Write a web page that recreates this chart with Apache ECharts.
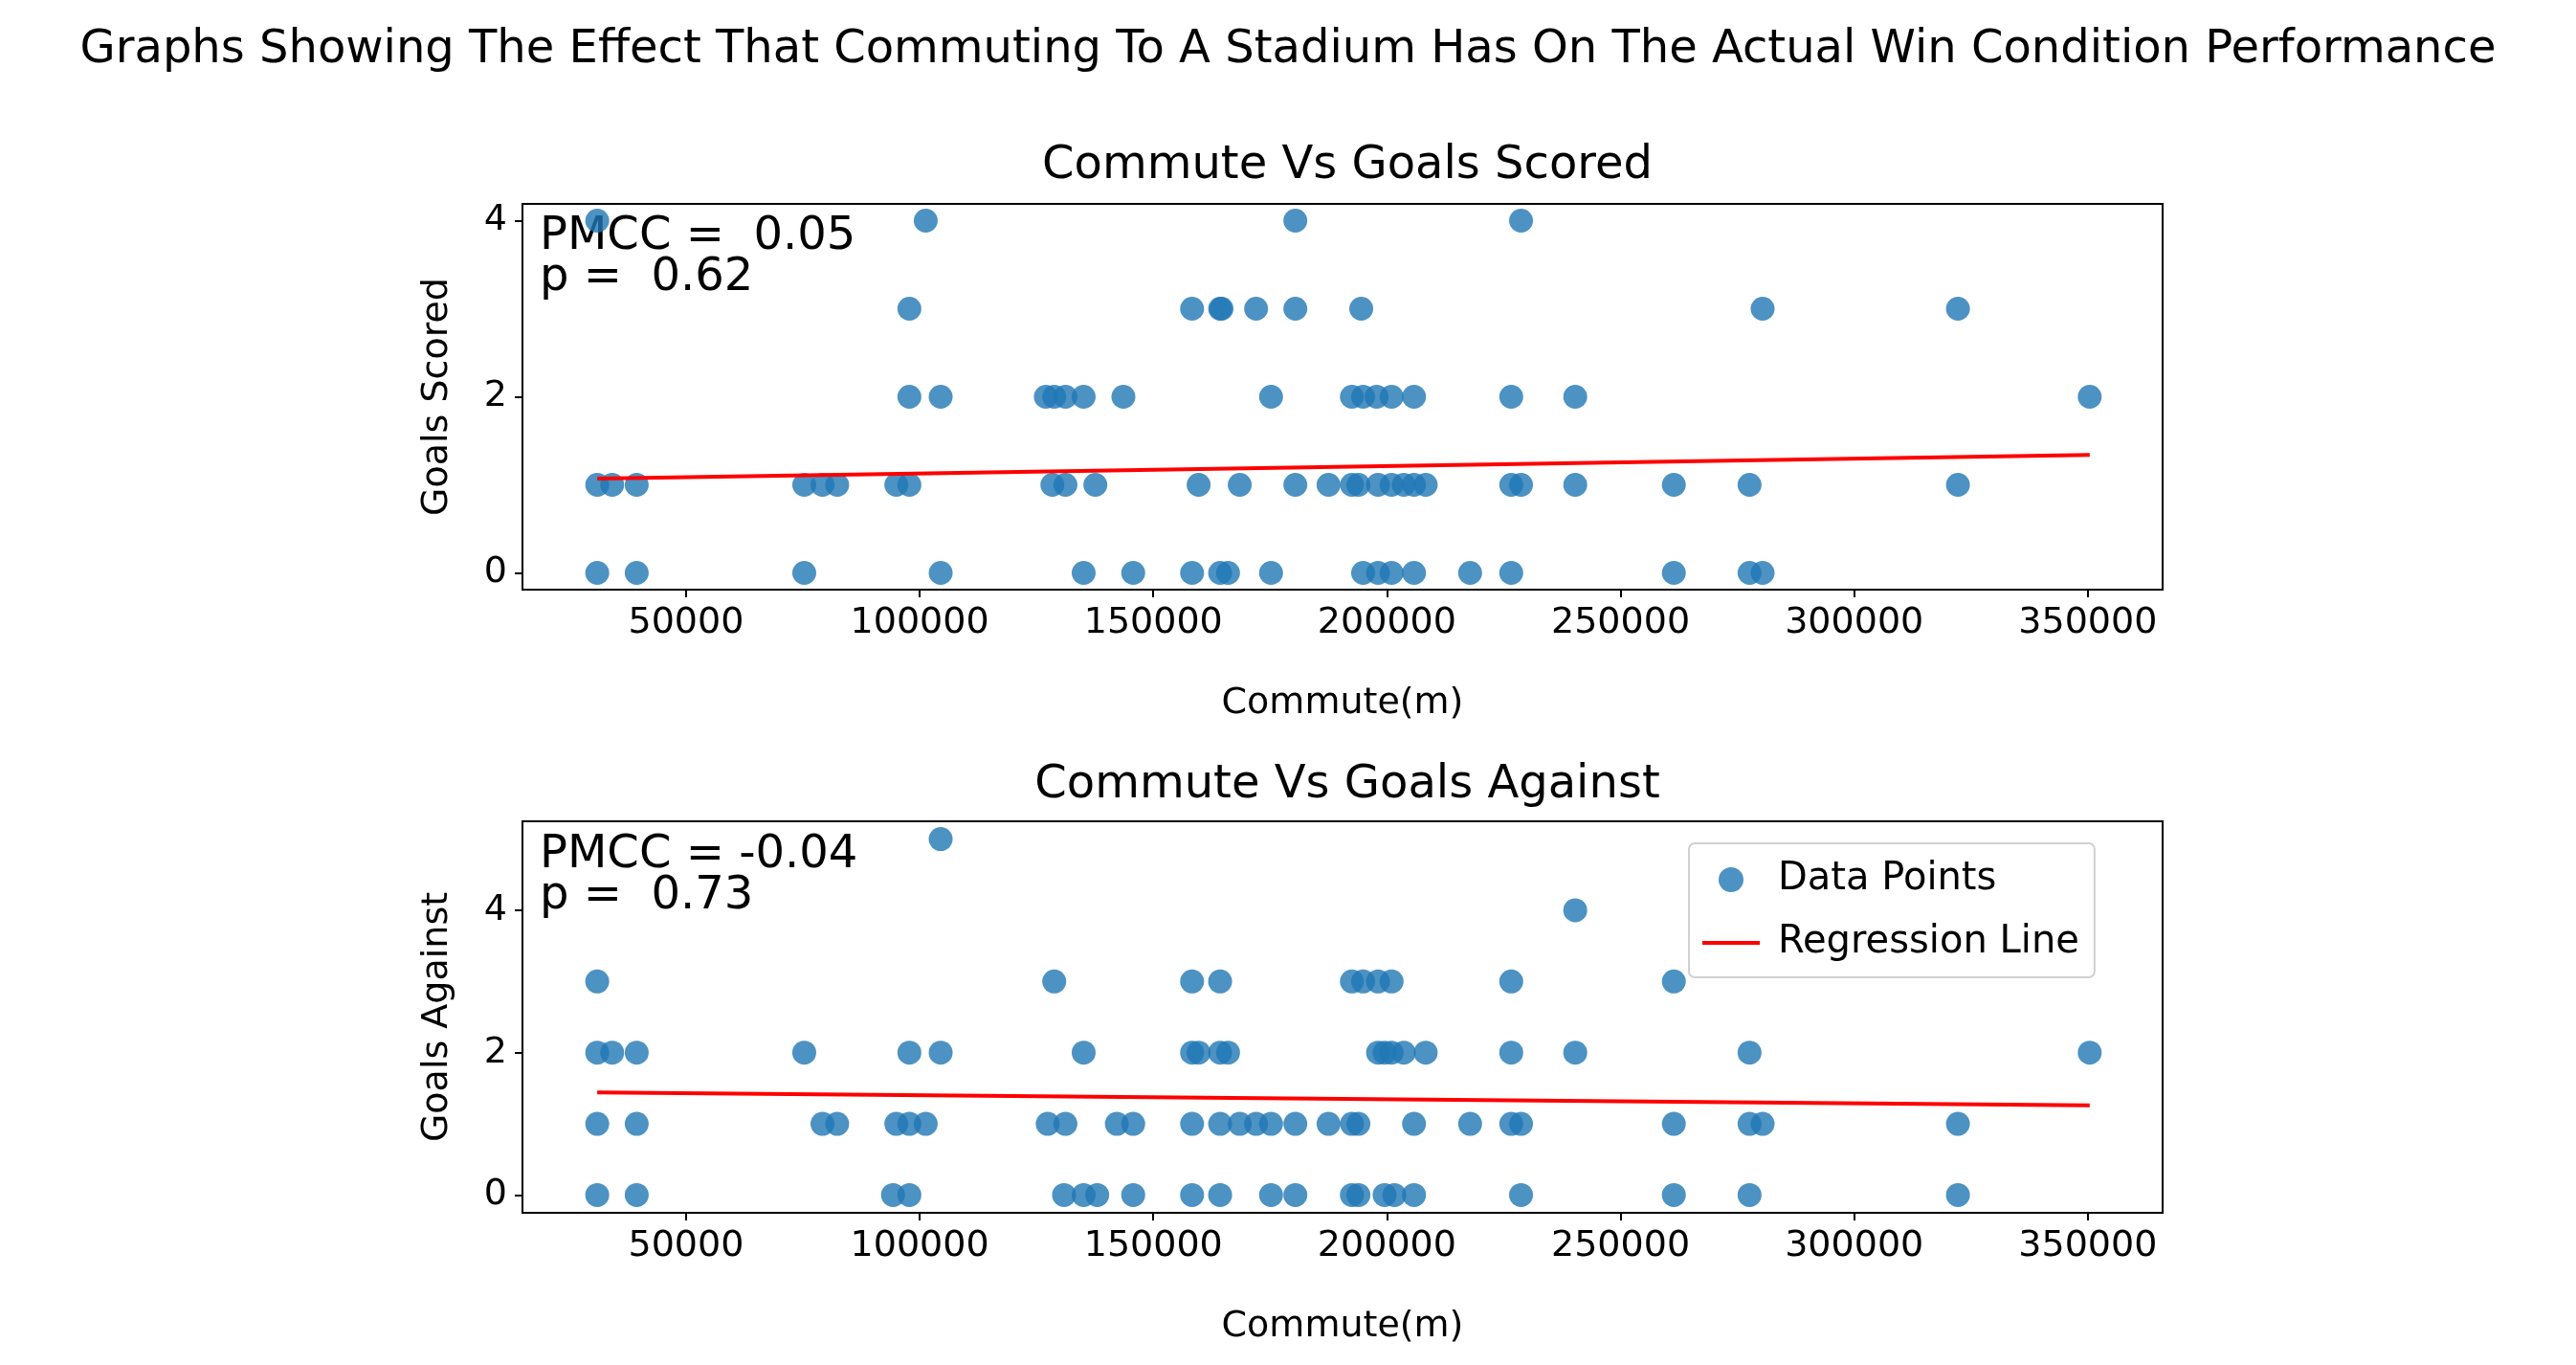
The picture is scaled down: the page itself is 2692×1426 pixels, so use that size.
<!DOCTYPE html>
<html>
<head>
<meta charset="utf-8">
<script src="https://cdn.jsdelivr.net/npm/echarts@6/dist/echarts.min.js"></script>
<style>html,body{margin:0;padding:0;background:#fff}#main{width:2692px;height:1426px}</style>
</head>
<body>
<div id="main"></div>
<script>
// commute values (m) per goals value
var scored4 = [31000, 101300, 180400, 228700];
var scored3 = [97800, 158300, 164300, 164600, 172000, 180400, 194500, 280400, 322200];
var scored2 = [97800, 104500, 127000, 128800, 131200, 135100, 143600, 175200, 192500, 194900, 197800, 201000, 205800, 226600, 240300, 350400];
var scored1 = [31000, 34200, 39450, 75300, 79200, 82350, 95000, 97800, 128400, 131200, 137600, 159700, 168500, 180400, 187500, 192500, 193900, 198100, 201000, 203600, 205800, 208300, 226600, 228700, 240300, 261400, 277600, 322200];
var scored0 = [31000, 39450, 75300, 104500, 135100, 145700, 158300, 164300, 166000, 175200, 194900, 198100, 201000, 205800, 217800, 226600, 261400, 277600, 280400];

var against5 = [104500];
var against4 = [240300];
var against3 = [31000, 128800, 158300, 164300, 192500, 194900, 198100, 201000, 226600, 261400];
var against2 = [31000, 34200, 39450, 75300, 97800, 104500, 135100, 158300, 159700, 164300, 166000, 198100, 199500, 201000, 203600, 208300, 226600, 240300, 277600, 350400];
var against1 = [31000, 39450, 79200, 82350, 95000, 97800, 101300, 127400, 131200, 142200, 145700, 158300, 164300, 168500, 172000, 175200, 180400, 187500, 192500, 193900, 205800, 217800, 226600, 228700, 261400, 277600, 280400, 322200];
var against0 = [31000, 39450, 94300, 97800, 130900, 135100, 138000, 145700, 158300, 164300, 175200, 180400, 192500, 193900, 199500, 201600, 205800, 228700, 261400, 277600, 322200];

var regScored = [[31000, 1.07], [350400, 1.34]];
var regAgainst = [[31000, 1.44], [350400, 1.26]];
var xTicks = [50000, 100000, 150000, 200000, 250000, 300000, 350000];

function pts(groups) {
  var out = [];
  groups.forEach(function (g) {
    g[1].forEach(function (x) { out.push([x, g[0]]); });
  });
  return out;
}
var scoredPts = pts([[4, scored4], [3, scored3], [2, scored2], [1, scored1], [0, scored0]]);
var againstPts = pts([[5, against5], [4, against4], [3, against3], [2, against2], [1, against1], [0, against0]]);

var font = 'DejaVu Sans';
var blue = '#1f77b4';

function xAxis(idx) {
  return {
    gridIndex: idx, type: 'value', min: 15000, max: 366000,
    name: 'Commute(m)', nameLocation: 'middle', nameGap: 100,
    nameTextStyle: {fontFamily: font, fontSize: 38, color: '#000'},
    axisLine: {onZero: false, lineStyle: {color: '#000', width: 2}},
    axisTick: {length: 8, lineStyle: {color: '#000', width: 2}, customValues: xTicks},
    splitLine: {show: false},
    axisLabel: {fontFamily: font, fontSize: 38, color: '#000', margin: 16,
      customValues: xTicks, formatter: function (v) { return String(v); }}
  };
}
function yAxis(idx, min, max, name) {
  return {
    gridIndex: idx, type: 'value', min: min, max: max,
    name: name, nameLocation: 'middle', nameGap: 70,
    nameTextStyle: {fontFamily: font, fontSize: 38, color: '#000'},
    axisLine: {show: true, onZero: false, lineStyle: {color: '#000', width: 2}},
    axisTick: {show: true, length: 8, lineStyle: {color: '#000', width: 2}, customValues: [0, 2, 4]},
    splitLine: {show: false},
    axisLabel: {fontFamily: font, fontSize: 38, color: '#000', margin: 16, customValues: [0, 2, 4]}
  };
}

var chart = echarts.init(document.getElementById('main'));
chart.setOption({
  backgroundColor: '#fff',
  animation: false,
  title: [
    {text: 'Graphs Showing The Effect That Commuting To A Stadium Has On The Actual Win Condition Performance',
      left: 'center', top: 24, textStyle: {fontFamily: font, fontSize: 48, fontWeight: 'normal', color: '#000'}},
    {text: 'Commute Vs Goals Scored', left: 1403, textAlign: 'center', top: 145,
      textStyle: {fontFamily: font, fontSize: 48, fontWeight: 'normal', color: '#000'}},
    {text: 'Commute Vs Goals Against', left: 1403, textAlign: 'center', top: 792,
      textStyle: {fontFamily: font, fontSize: 48, fontWeight: 'normal', color: '#000'}}
  ],
  grid: [
    {left: 546, right: 432, top: 213, height: 403, show: true, borderColor: '#000', borderWidth: 2},
    {left: 546, right: 432, top: 858, height: 409, show: true, borderColor: '#000', borderWidth: 2}
  ],
  xAxis: [xAxis(0), xAxis(1)],
  yAxis: [yAxis(0, -0.19, 4.19, 'Goals Scored'), yAxis(1, -0.25, 5.25, 'Goals Against')],
  legend: {
    data: [{name: 'Data Points', icon: 'circle'}, {name: 'Regression Line', icon: 'path://M0,0H60V4H0Z'}],
    orient: 'vertical', left: 1765, top: 881, itemGap: 26, padding: [18, 16, 16, 14],
    itemWidth: 60, itemHeight: 26,
    borderColor: '#d0d0d0', borderWidth: 2, borderRadius: 6, backgroundColor: 'rgba(255,255,255,0.8)',
    textStyle: {fontFamily: font, fontSize: 40, color: '#000', padding: [0, 0, 0, 14]}
  },
  graphic: [
    {type: 'text', left: 564, top: 224, style: {text: 'PMCC =  0.05\np =  0.62', font: '48px "DejaVu Sans"', lineHeight: 43, fill: '#000'}},
    {type: 'text', left: 564, top: 870, style: {text: 'PMCC = -0.04\np =  0.73', font: '48px "DejaVu Sans"', lineHeight: 43, fill: '#000'}}
  ],
  series: [
    {name: 'Data Points', type: 'scatter', xAxisIndex: 0, yAxisIndex: 0, data: scoredPts, symbolSize: 25,
      itemStyle: {color: blue, opacity: 0.8}},
    {name: 'Regression Line', type: 'line', xAxisIndex: 0, yAxisIndex: 0, data: regScored, symbol: 'none',
      lineStyle: {color: '#ff0000', width: 4}, itemStyle: {color: '#ff0000'}},
    {name: 'Data Points', type: 'scatter', xAxisIndex: 1, yAxisIndex: 1, data: againstPts, symbolSize: 25,
      itemStyle: {color: blue, opacity: 0.8}},
    {name: 'Regression Line', type: 'line', xAxisIndex: 1, yAxisIndex: 1, data: regAgainst, symbol: 'none',
      lineStyle: {color: '#ff0000', width: 4}, itemStyle: {color: '#ff0000'}}
  ]
});
</script>
</body>
</html>
